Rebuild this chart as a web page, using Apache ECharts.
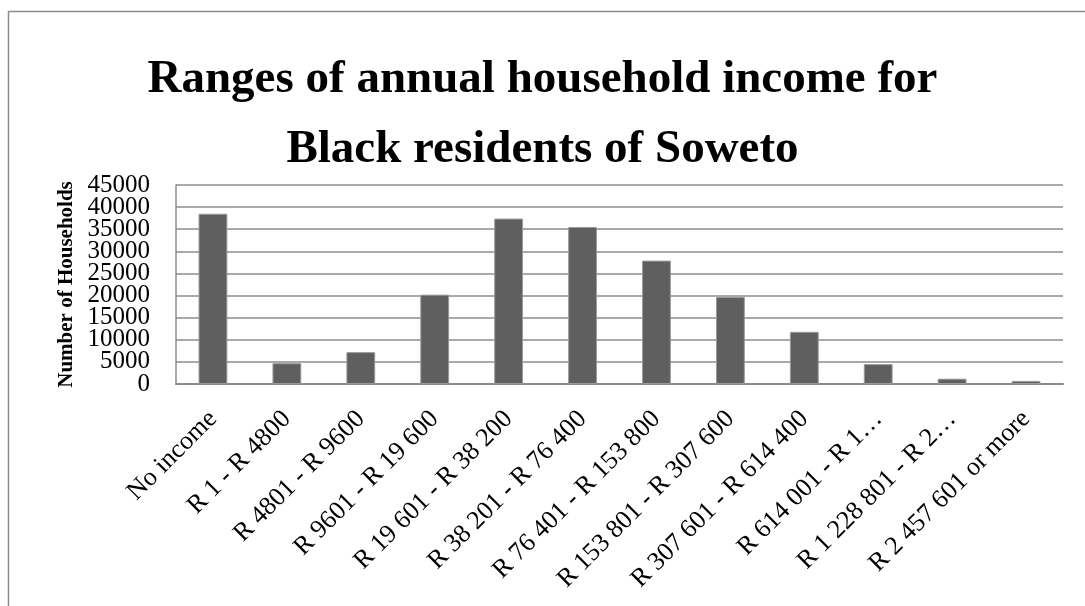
<!DOCTYPE html>
<html>
<head>
<meta charset="utf-8">
<script src="https://cdn.jsdelivr.net/npm/echarts@6/dist/echarts.min.js"></script>
<style>
  html, body { margin: 0; padding: 0; background: #fff; }
  #chart { width: 1085px; height: 606px; }
</style>
</head>
<body>
<div id="chart"></div>
<script>
// income ranges (labels as shown on the axis)
var categories = [
    'No income', 'R 1 - R 4800', 'R 4801 - R 9600', 'R 9601 - R 19 600',
    'R 19 601 - R 38 200', 'R 38 201 - R 76 400', 'R 76 401 - R 153 800',
    'R 153 801 - R 307 600', 'R 307 601 - R 614 400', 'R 614 001 - R 1\u2026',
    'R 1 228 801 - R 2\u2026', 'R 2 457 601 or more'
];
// households per range
var households = [38500, 4700, 7200, 20200, 37400, 35500, 27900, 19700, 11800, 4500, 1200, 700];
var yTicks = [0, 5000, 10000, 15000, 20000, 25000, 30000, 35000, 40000, 45000];
var yStep = 5000;

var serif = '"Liberation Serif", "Times New Roman", serif';
var myChart = echarts.init(document.getElementById('chart'));

// the tick labels are taller than the gap between ticks, so ECharts would drop
// some of them; split them over two overlaid axes (even / odd ticks)
function yLabelAxis(showEven, extra) {
    var axis = {
        type: 'value',
        position: 'left',
        min: yTicks[0],
        max: yTicks[yTicks.length - 1],
        interval: yStep,
        axisTick: { show: false },
        axisLine: { show: false },
        splitLine: { show: false },
        axisLabel: {
            margin: 26,
            fontFamily: serif,
            fontSize: 25,
            color: '#000',
            showMinLabel: showEven,
            showMaxLabel: !showEven,
            formatter: function (v) {
                var even = Math.round(v / yStep) % 2 === 0;
                return even === showEven ? String(v) : '';
            }
        }
    };
    for (var k in extra) axis[k] = extra[k];
    return axis;
}

var option = {
    backgroundColor: '#fff',
    animation: false,
    title: {
        text: 'Ranges of annual household income for\nBlack residents of Soweto',
        left: 'center',
        top: 40,
        textStyle: {
            fontFamily: serif,
            fontSize: 47,
            fontWeight: 'bold',
            color: '#000',
            lineHeight: 70
        }
    },
    // outer chart frame (only left and top edges are inside the picture)
    graphic: [{
        type: 'rect',
        shape: { x: 8.5, y: 11.5, width: 1200, height: 700 },
        style: { fill: null, stroke: '#8c8c8c', lineWidth: 1.5 },
        silent: true
    }],
    grid: { left: 176, right: 22, top: 185, bottom: 222 },
    xAxis: {
        type: 'category',
        data: categories,
        axisLine: { lineStyle: { color: '#8c8c8c', width: 2 } },
        axisTick: { show: false },
        axisLabel: {
            interval: 0,
            rotate: 45,
            margin: 31,
            fontFamily: serif,
            fontSize: 26,
            color: '#000'
        }
    },
    yAxis: [
        yLabelAxis(true, {
            name: 'Number of Households',
            nameLocation: 'middle',
            nameGap: 98,
            nameTextStyle: {
                fontFamily: serif,
                fontSize: 21,
                fontWeight: 'bold',
                color: '#000'
            },
            axisLine: { show: true, lineStyle: { color: '#8c8c8c', width: 1.5 } },
            splitLine: { show: true, lineStyle: { color: '#8c8c8c', width: 1.5 } }
        }),
        yLabelAxis(false, {})
    ],
    series: [{
        type: 'bar',
        yAxisIndex: 0,
        data: households,
        barWidth: '39%',
        itemStyle: { color: '#5f5f5f', borderColor: '#9a9a9a', borderWidth: 1 }
    }]
};
myChart.setOption(option);
window.addEventListener('resize', function () { myChart.resize(); });
</script>
</body>
</html>
